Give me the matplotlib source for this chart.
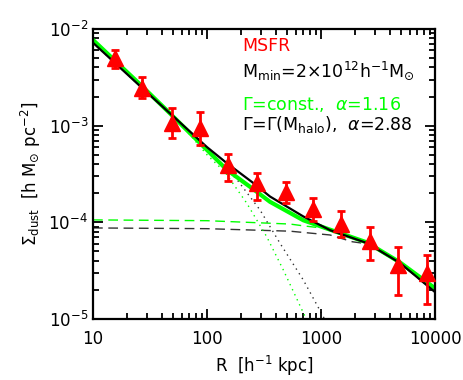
import numpy as np
import matplotlib
matplotlib.use('Agg')
import matplotlib.pyplot as plt
from matplotlib.ticker import FixedLocator, LogLocator, NullFormatter, FixedFormatter

plt.rcParams['font.family'] = ['DejaVu Sans']
plt.rcParams['mathtext.fontset'] = 'dejavusans'

# measured points (MSFR sample)
r_obs = [15.6, 27, 49, 86, 152, 272, 489, 857, 1507, 2700, 4750, 8500]
sig_obs = [5.0e-3, 2.45e-3, 1.07e-3, 9.5e-4, 3.93e-4, 2.55e-4, 2.06e-4, 1.38e-4, 9.6e-5, 6.4e-5, 3.63e-5, 3.0e-5]
sig_hi = [6.07e-3, 3.19e-3, 1.52e-3, 1.39e-3, 5.1e-4, 3.24e-4, 2.62e-4, 1.79e-4, 1.31e-4, 8.96e-5, 5.57e-5, 4.6e-5]
sig_lo = [3.95e-3, 1.93e-3, 7.46e-4, 6.3e-4, 2.68e-4, 1.71e-4, 1.58e-4, 1.03e-4, 7.06e-5, 4.08e-5, 1.78e-5, 1.43e-5]

# total model curves
r_tot = [10, 27, 47, 100, 149, 255, 357, 700, 1200, 2530, 4930, 10000]
tot_const = [7.7e-3, 2.55e-3, 1.35e-3, 5.6e-4, 3.5e-4, 2.2e-4, 1.63e-4, 1.05e-4, 8.4e-5, 6.2e-5, 3.85e-5, 2.08e-5]
tot_halo = [7.2e-3, 2.45e-3, 1.35e-3, 6.0e-4, 4.1e-4, 2.55e-4, 1.85e-4, 1.15e-4, 8.3e-5, 6.1e-5, 3.8e-5, 1.9e-5]

# 1-halo terms
r_one = [10, 27, 50, 100, 144, 223, 334, 467, 725, 900]
one_const = [7.7e-3, 2.55e-3, 1.3e-3, 5.0e-4, 3.3e-4, 1.58e-4, 7.1e-5, 3.22e-5, 1.06e-5, 5e-6]
r_one_h = [10, 27, 50, 100, 182, 292, 436, 700, 1047, 1300]
one_halo = [7.2e-3, 2.45e-3, 1.3e-3, 5.5e-4, 2.8e-4, 1.34e-4, 6.1e-5, 2.53e-5, 1.06e-5, 6e-6]

# 2-halo terms
r_two = [10, 100, 535, 700, 1043, 2530, 4930, 10000]
two_const = [1.06e-4, 1.04e-4, 9.6e-5, 9.2e-5, 8.7e-5, 6.2e-5, 3.85e-5, 2.08e-5]
r_two_h = [10, 100, 535, 1200, 1880, 2530, 4930, 10000]
two_halo = [8.75e-5, 8.6e-5, 8.1e-5, 7.4e-5, 6.3e-5, 6.0e-5, 3.8e-5, 1.9e-5]

green = '#00ff00'

fig = plt.figure(figsize=(4.63, 3.80), dpi=100)
ax = fig.add_axes([0.2009, 0.1605, 0.7386, 0.7632])

ax.plot(r_two, two_const, color=green, lw=1.0, ls=(0, (7, 4)))
ax.plot(r_two_h, two_halo, color='k', lw=1.0, ls=(0, (7, 4)), alpha=0.8)
ax.plot(r_one, one_const, color=green, lw=1.0, ls=(0, (1, 3)))
ax.plot(r_one_h, one_halo, color='k', lw=1.0, ls=(0, (1, 3)), alpha=0.8)
ax.plot(r_tot, tot_const, color=green, lw=3.0)
ax.plot(r_tot, tot_halo, color='k', lw=1.6)

yerr = [np.array(sig_obs) - np.array(sig_lo), np.array(sig_hi) - np.array(sig_obs)]
ax.errorbar(r_obs, sig_obs, yerr=yerr, fmt='^', color='red', ms=12, elinewidth=2,
            capsize=3, capthick=2, zorder=5)

ax.set_xscale('log')
ax.set_yscale('log')
ax.set_xlim(10, 10000)
ax.set_ylim(1e-5, 1e-2)

ax.xaxis.set_major_locator(FixedLocator([10, 100, 1000, 10000]))
ax.xaxis.set_major_formatter(FixedFormatter(['10', '100', '1000', '10000']))
ax.yaxis.set_major_locator(FixedLocator([1e-5, 1e-4, 1e-3, 1e-2]))
ax.yaxis.set_major_formatter(FixedFormatter([r'$10^{-5}$', r'$10^{-4}$', r'$10^{-3}$', r'$10^{-2}$']))
ax.xaxis.set_minor_locator(LogLocator(base=10, subs=np.arange(2, 10)))
ax.yaxis.set_minor_locator(LogLocator(base=10, subs=np.arange(2, 10)))
ax.xaxis.set_minor_formatter(NullFormatter())
ax.yaxis.set_minor_formatter(NullFormatter())

ax.tick_params(which='both', direction='in', top=True, right=True, width=1.3, labelsize=12)
ax.tick_params(which='major', length=7)
ax.tick_params(which='minor', length=4)
ax.tick_params(axis='x', pad=8)
for s in ax.spines.values():
    s.set_linewidth(1.6)

ax.set_xlabel(r'R  [h$^{-1}$ kpc]', fontsize=12)
ax.set_ylabel(r'$\Sigma_{\rm dust}$  [h M$_{\mathregular{⊙}}$ pc$^{-2}$]', fontsize=12)

tx = 0.435
ax.text(tx, 0.94, 'MSFR', color='red', fontsize=12.5, transform=ax.transAxes, va='center')
ax.text(tx, 0.855, r'M$_{\rm min}$=2$\times$10$^{12}$h$^{-1}$M$_{\mathregular{⊙}}$', color='k', fontsize=12.5,
        transform=ax.transAxes, va='center')
ax.text(tx, 0.74, r'$\Gamma$=const.,  $\alpha$=1.16', color=green, fontsize=12.5,
        transform=ax.transAxes, va='center')
ax.text(tx, 0.67, r'$\Gamma$=$\Gamma$(M$_{\rm halo}$),  $\alpha$=2.88', color='k', fontsize=12.5,
        transform=ax.transAxes, va='center')

fig.savefig('out.png', dpi=100)
